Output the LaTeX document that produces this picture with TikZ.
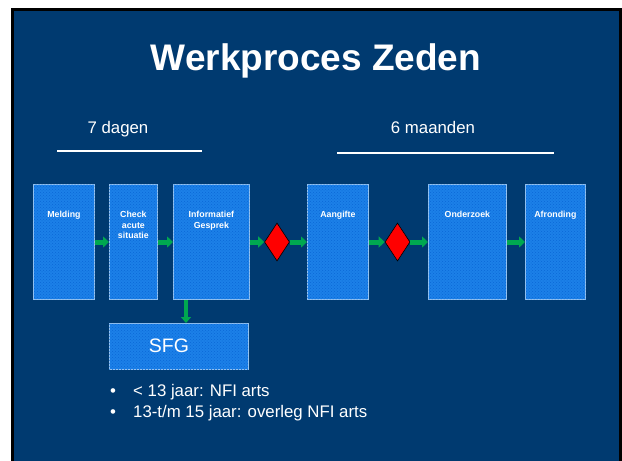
\documentclass[tikz,border=0pt]{standalone}
\usepackage{fontspec}
\setmainfont{Liberation Sans}
\usetikzlibrary{shapes.geometric,arrows.meta,patterns}
\definecolor{navy}{RGB}{0,58,112}
\definecolor{boxblue}{RGB}{28,128,232}
\definecolor{boxdot}{RGB}{10,104,214}
\definecolor{boxedge}{RGB}{150,195,240}
\definecolor{arrgreen}{RGB}{0,168,80}
\tikzset{
  x=1pt, y=-1pt,
  procbox/.style={draw=boxedge, line width=0.8pt, fill=boxblue,
    postaction={pattern=crosshatch dots, pattern color=boxdot},
    inner sep=0pt, anchor=north west},
  boxlabel/.style={text=white, font=\fontsize{8.8}{10.5}\selectfont\bfseries, align=center, anchor=north, inner sep=0pt},
  decision/.style={diamond, draw=black, line width=0.6pt, fill=red, inner sep=0pt,
    minimum width=25pt, minimum height=38pt},
  garrow/.style={draw=arrgreen, line width=5pt, -{Triangle[length=6pt,width=11pt]}},
  bodytext/.style={text=white, font=\fontsize{16.8}{20}\selectfont, inner sep=0pt},
  ruleline/.style={draw=white, line width=1.3pt}
}
\begin{document}
\begin{tikzpicture}
\useasboundingbox (0,0) rectangle (622,461);
\draw[line width=2.6pt, fill=navy] (12.3,9.3) rectangle (620.3,475);

\node[text=white, font=\fontsize{37}{44}\selectfont\bfseries, anchor=base, inner sep=0pt] (title) at (316,70) {Werkproces Zeden};

\node[bodytext, anchor=base] (t7) at (118,133) {7 dagen};
\node[bodytext, anchor=base] (t6) at (433,133) {6 maanden};
\draw[ruleline] (57,151) -- (202,151);
\draw[ruleline] (337,153) -- (554,153);

% process boxes
\node[procbox, minimum width=61pt, minimum height=115pt] (meld) at (33,184) {};
\node[procbox, minimum width=48pt, minimum height=115pt] (check) at (109,184) {};
\node[procbox, minimum width=76pt, minimum height=115pt] (info) at (173,184) {};
\node[procbox, minimum width=61pt, minimum height=115pt] (aang) at (307,184) {};
\node[procbox, minimum width=78pt, minimum height=115pt] (onder) at (428,184) {};
\node[procbox, minimum width=60pt, minimum height=115pt] (afr) at (525,184) {};

\node[boxlabel] (lmeld) at ([yshift=-27pt]meld.north) {Melding};
\node[boxlabel] (lcheck) at ([yshift=-27pt]check.north) {Check\\acute\\situatie};
\node[boxlabel] (linfo) at ([yshift=-27pt]info.north) {Informatief\\Gesprek};
\node[boxlabel] (laang) at ([yshift=-27pt]aang.north) {Aangifte};
\node[boxlabel] (londer) at ([yshift=-27pt]onder.north) {Onderzoek};
\node[boxlabel] (lafr) at ([yshift=-27pt]afr.north) {Afronding};

% decisions
\node[decision] (d1) at (277,242) {};
\node[decision] (d2) at (397.5,242) {};

% connectors
\coordinate (row) at (0,242);
\draw[garrow] (meld.east |- row) -- (check.west |- row);
\draw[garrow] (check.east |- row) -- (info.west |- row);
\draw[garrow] (info.east |- row) -- (d1.west);
\draw[garrow] (d1.east) -- (aang.west |- row);
\draw[garrow] (aang.east |- row) -- (d2.west);
\draw[garrow] (d2.east) -- (onder.west |- row);
\draw[garrow] (onder.east |- row) -- (afr.west |- row);

% SFG
\node[procbox, minimum width=139pt, minimum height=46pt] (sfg) at (109,323) {};
\node[text=white, font=\fontsize{19.5}{22}\selectfont, inner sep=0pt] (lsfg) at (169,346) {SFG};
\coordinate (dx) at (186,0);
\draw[draw=arrgreen, line width=4.5pt, -{Triangle[length=6pt,width=10pt]}] (info.south -| dx) -- (sfg.north -| dx);

% bullets
\node[bodytext, anchor=base] (b1) at (113,396) {•};
\node[bodytext, anchor=base west] (i1) at (133,396) {< 13 jaar: NFI arts};
\node[bodytext, anchor=base] (b2) at (113,417) {•};
\node[bodytext, anchor=base west] (i2) at (133,417) {13-t/m 15 jaar: overleg NFI arts};
\end{tikzpicture}
\end{document}
